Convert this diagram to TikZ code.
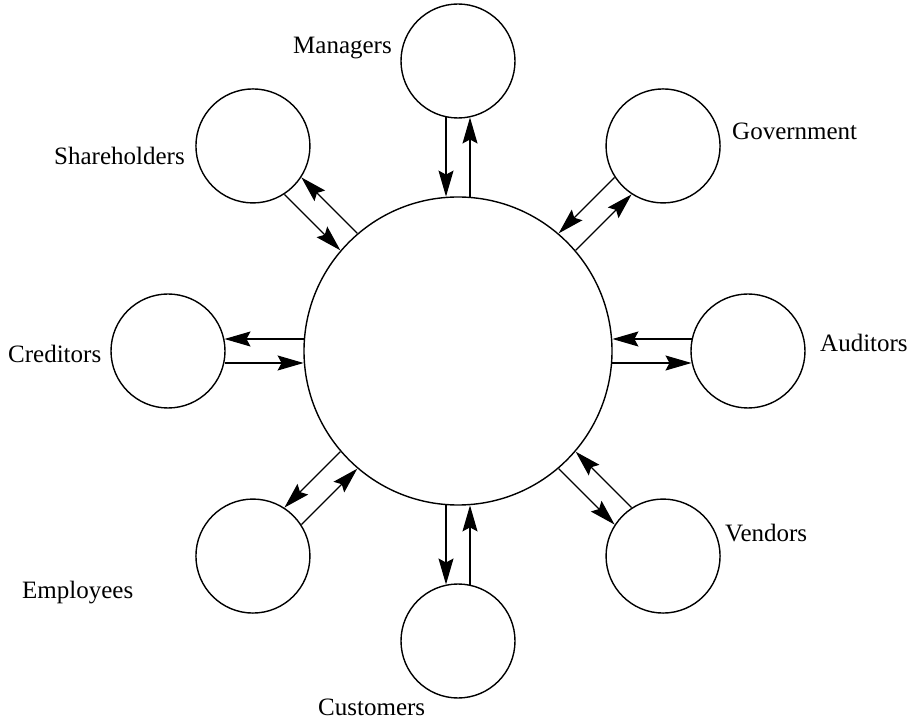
\documentclass[tikz,border=0pt]{standalone}
\usepackage{fontspec}
\setmainfont{Liberation Serif}
\usetikzlibrary{arrows.meta,calc}
\begin{document}
\begin{tikzpicture}[x=1pt,y=1pt,
  bigcirc/.style={circle,draw,line width=1.4pt,minimum size=308pt,inner sep=0pt},
  smallcirc/.style={circle,draw,line width=1.4pt,minimum size=114pt,inner sep=0pt},
  lbl/.style={anchor=base west,inner sep=0pt,font=\fontsize{25}{30}\selectfont},
  flow/.style={line width=1.2pt,shorten <=-0.3pt,shorten >=-1.2pt}]
\useasboundingbox (0,0) rectangle (908,721);
\node[bigcirc] (c) at (458,370) {};
\foreach \nm/\ang in {man/90,gov/45,aud/0,ven/315,cus/270,emp/225,cre/180,sha/135}{
  \node[smallcirc] (\nm) at ($(c)+(\ang:290)$) {};
}
\foreach \nm/\ang/\back in {man/90/270,gov/45/225,aud/0/180,ven/315/135,cus/270/90,emp/225/45,cre/180/0,sha/135/315}{
  \draw[flow,-{Stealth[length=26pt,width=15pt,inset=4pt]}] ([shift={(\ang-90:12)}]c.\ang) -- ([shift={(\ang-90:12)}]\nm.\back);
  \draw[flow,{Stealth[length=26pt,width=15pt,inset=4pt]}-] ([shift={(\ang+90:12)}]c.\ang) -- ([shift={(\ang+90:12)}]\nm.\back);
}
\node[lbl] (lman) at (293,667) {Managers};
\node[lbl] (lgov) at (732,581) {Government};
\node[lbl] (laud) at (820,369) {Auditors};
\node[lbl] (lven) at (725,179) {Vendors};
\node[lbl] (lcus) at (318,6) {Customers};
\node[lbl] (lemp) at (22,123) {Employees};
\node[lbl] (lcre) at (8,358) {Creditors};
\node[lbl] (lsha) at (54,556) {Shareholders};
\end{tikzpicture}
\end{document}
